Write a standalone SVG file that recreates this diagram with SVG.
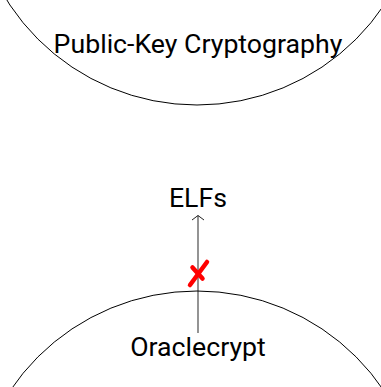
<svg xmlns="http://www.w3.org/2000/svg" width="381" height="387" viewBox="0 0 381 387">
<style>
.node{fill:none;stroke:#000;stroke-width:1}
.lbl{font-family:Roboto,"Liberation Sans",sans-serif;font-size:26.7px;fill:#000;text-anchor:middle}
.edge{stroke:#666;stroke-width:1.4;fill:none}
.cross{stroke:#f00;stroke-width:4.5;stroke-linecap:round;fill:none}
</style>
<defs>
<marker id="arr" viewBox="0 0 6 14" refX="5" refY="7" markerWidth="6" markerHeight="14" markerUnits="userSpaceOnUse" orient="auto">
<path d="M0.5,1 L5,7 L0.5,13" fill="none" stroke="#222" stroke-width="1"/>
</marker>
</defs>
<rect width="381" height="387" fill="#fff"/>
<g id="connectors">
<path class="edge" d="M198,333 L198,215.5" marker-end="url(#arr)"/>
<g id="blocked">
<path class="cross" d="M207,262 L190,285"/>
<path class="cross" d="M192.5,267.5 L202.5,278.5"/>
</g>
</g>
<g id="node-pkc">
<circle class="node" cx="197" cy="-120" r="225"/>
<text class="lbl" x="198" y="53">Public-Key Cryptography</text>
</g>
<g id="node-elfs">
<text class="lbl" x="198" y="207">ELFs</text>
</g>
<g id="node-oraclecrypt">
<circle class="node" cx="197" cy="516" r="225"/>
<text class="lbl" x="198" y="356">Oraclecrypt</text>
</g>
</svg>
